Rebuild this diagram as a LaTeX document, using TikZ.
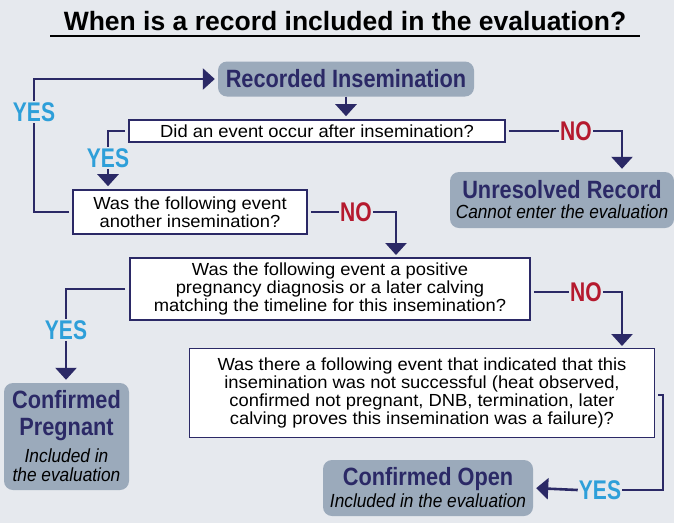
\documentclass[tikz,border=0pt]{standalone}
\usepackage{fontspec}
\setmainfont{Liberation Sans}
\newfontfamily\bodyfont{Liberation Sans}[FakeStretch=1.05]
\newfontfamily\narrowfont{Liberation Sans}[FakeStretch=0.78]
\newfontfamily\bigfont{Liberation Sans}[FakeStretch=0.87]
\newfontfamily\itfont{Liberation Sans}[FakeStretch=0.91]
\usetikzlibrary{arrows.meta}
\definecolor{bg}{HTML}{E6E9EE}
\definecolor{navy}{HTML}{2B2966}
\definecolor{nored}{HTML}{B5192E}
\definecolor{yesblue}{HTML}{2E9FD9}
\definecolor{boxgray}{HTML}{9BAABB}
\newcommand{\bigt}[1]{{\bigfont\fontsize{25}{25}\selectfont\bfseries #1}}
\newcommand{\subt}[1]{{\itfont\fontsize{19}{19}\selectfont\itshape\color{black} #1}}
\newcommand{\tightlines}{\lineskiplimit=-50pt\relax\lineskip=0pt\relax}
\tikzset{
  qbox/.style={draw=navy, line width=1.6pt, fill=white, align=center, inner sep=0pt, font=\bodyfont\fontsize{17.5}{18}\selectfont, text=black},
  rbox/.style={fill=boxgray, rounded corners=9pt, align=center, inner sep=0pt, text=navy},
  conn/.style={draw=navy, line width=2.6pt},
  arr/.style={conn, -{Triangle[width=21pt,length=12pt]}, shorten >=3pt},
  yeslab/.style={text=yesblue, font=\narrowfont\fontsize{27}{27}\selectfont\bfseries, inner sep=1pt},
  nolab/.style={text=nored, font=\narrowfont\fontsize{27}{27}\selectfont\bfseries, inner sep=1pt},
}
\begin{document}
\begin{tikzpicture}[x=1pt,y=-1pt]
\fill[bg] (0,0) rectangle (674,523);
\useasboundingbox (0,0) rectangle (674,523);
\node[font=\fontsize{26.5}{28}\selectfont\bfseries, inner sep=0pt] (title) at (345,21) {When is a record included in the evaluation?};
\draw[line width=1.5pt] (50,36) -- (640,36);

\node[rbox, minimum width=256pt, minimum height=35pt] (recins) at (346,79) {\bigt{Recorded Insemination}};
\node[qbox, minimum width=376pt, minimum height=22pt] (q1) at (317,131) {Did an event occur after insemination?};
\node[rbox, minimum width=224pt, minimum height=56pt, font=\fontsize{17}{20}\selectfont\tightlines] (unres) at (562,200) {\bigt{Unresolved Record}\\\subt{Cannot enter the evaluation}};
\node[qbox, minimum width=234pt, minimum height=44pt] (q2) at (190,212) {Was the following event\\another insemination?};
\node[qbox, minimum width=400pt, minimum height=62pt] (q3) at (330,289) {Was the following event a positive\\pregnancy diagnosis or a later calving\\matching the timeline for this insemination?};
\node[qbox, minimum width=465pt, minimum height=89pt] (q4) at (422,393) {Was there a following event that indicated that this\\insemination was not successful (heat observed,\\confirmed not pregnant, DNB, termination, later\\calving proves this insemination was a failure)?};
\node[rbox, minimum width=125pt, minimum height=107pt, font=\fontsize{17}{19}\selectfont\tightlines] (preg) at (66.5,436.5) {\bigt{Confirmed}\\[8pt]\bigt{Pregnant}\\[8pt]\subt{Included in}\\\subt{the evaluation}};
\node[rbox, minimum width=210pt, minimum height=56pt, font=\fontsize{17}{22}\selectfont\tightlines] (open) at (428,488) {\bigt{Confirmed Open}\\\subt{Included in the evaluation}};

% labels
\node[yeslab] (yes1) at (34,112) {YES};
\node[yeslab] (yes2) at (108,158) {YES};
\node[nolab] (no1) at (576,131) {NO};
\node[nolab] (no2) at (356,212) {NO};
\node[yeslab] (yes3) at (66,330) {YES};
\node[nolab] (no3) at (586,292) {NO};
\node[yeslab] (yes4) at (600,490) {YES};
\coordinate (c2) at (396,258);
\coordinate (c3) at (622,349);
\coordinate (c4) at (663,395);

% connectors
\draw[arr] (recins.south) -- (recins.south |- q1.north);
\draw[conn] (q1.east) ++(3,0) -- (no1.west);
\draw[arr] (no1.east) -| (unres.north -| 622,0);
\draw[conn] (q1.west) ++(-3,0) -| (yes2.north);
\draw[arr] (yes2.south) -- (yes2.south |- q2.north);
\draw[conn] (q2.west) ++(-3,0) -| (yes1.south);
\draw[arr] (yes1.north) |- (recins.west);
\draw[conn] (q2.east) ++(3,0) -- (no2.west);
\draw[arr] (no2.east) -| (c2);
\draw[conn] (q3.west) ++(-4,0) -| (yes3.north);
\draw[arr] (yes3.south) -- (yes3.south |- preg.north);
\draw[conn] (q3.east) ++(3,3) -- (no3.west);
\draw[arr] (no3.east) -| (c3);
\draw[conn] (q4.east |- c4) ++(3,0) -| (663,490) -- (yes4.east);
\draw[arr] (yes4.west) -- (open.east);
\end{tikzpicture}
\end{document}
